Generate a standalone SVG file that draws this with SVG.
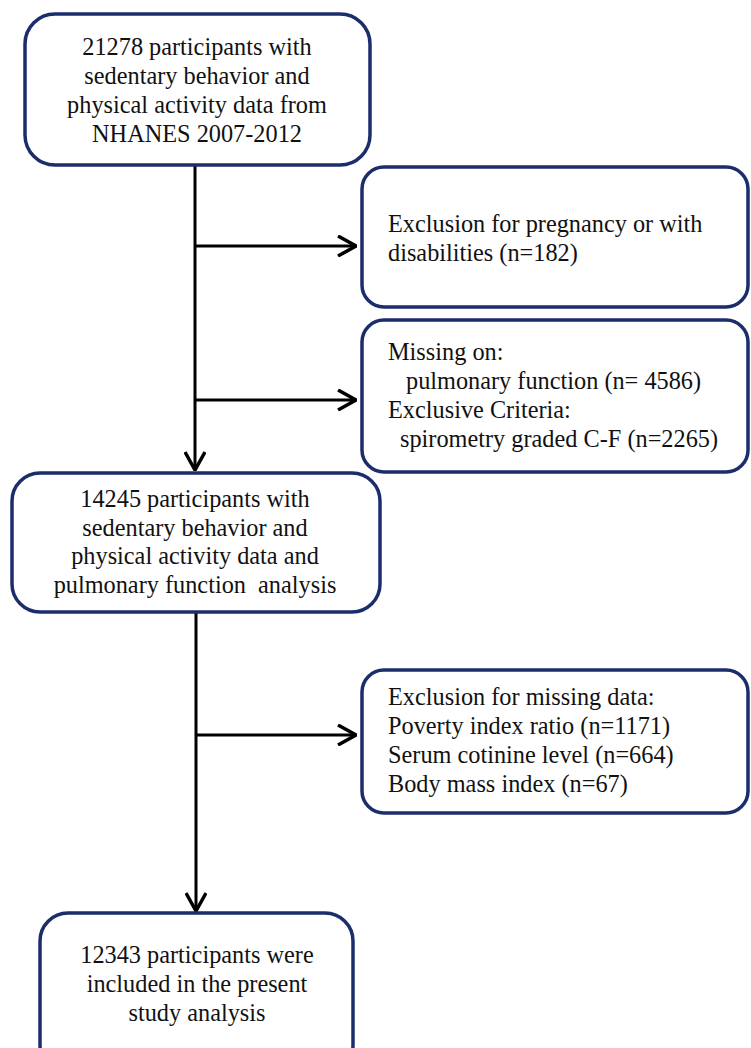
<svg xmlns="http://www.w3.org/2000/svg" width="751" height="1048" viewBox="0 0 751 1048">
<style>
.box{fill:#fff;stroke:#1c2d6b;stroke-width:3.5}
.t{font-family:"Liberation Serif","Times New Roman",serif;font-size:24.3px;fill:#111;white-space:pre}
.c{text-anchor:middle}
.ln{stroke:#000;stroke-width:3;fill:none}
</style>
<defs>
<marker id="ah" viewBox="0 0 20 22" refX="19" refY="11" markerWidth="20" markerHeight="22" markerUnits="userSpaceOnUse" orient="auto">
<path d="M1,1 L19,11 L1,21" fill="none" stroke="#000" stroke-width="3.5"/>
</marker>
</defs>
<rect width="751" height="1048" fill="#fff"/>
<g id="connectors">
<line class="ln" x1="195" y1="165" x2="195" y2="470" marker-end="url(#ah)"/>
<line class="ln" x1="195" y1="246" x2="356" y2="246" marker-end="url(#ah)"/>
<line class="ln" x1="195" y1="400" x2="356" y2="400" marker-end="url(#ah)"/>
<line class="ln" x1="196" y1="612" x2="196" y2="911" marker-end="url(#ah)"/>
<line class="ln" x1="196" y1="735" x2="356" y2="735" marker-end="url(#ah)"/>
</g>
<g id="n1">
<rect class="box" x="25" y="14" width="345" height="151" rx="30"/>
<text class="t c" x="197" y="55">21278 participants with</text>
<text class="t c" x="197" y="84">sedentary behavior and</text>
<text class="t c" x="197" y="113">physical activity data from</text>
<text class="t c" x="197" y="142">NHANES 2007-2012</text>
</g>
<g id="e1">
<rect class="box" x="362" y="167" width="386" height="140" rx="22"/>
<text class="t" x="388" y="232">Exclusion for pregnancy or with</text>
<text class="t" x="388" y="261">disabilities (n=182)</text>
</g>
<g id="e2">
<rect class="box" x="362" y="320" width="386" height="152" rx="22"/>
<text class="t" x="388" y="360">Missing on:</text>
<text class="t" x="406" y="389">pulmonary function (n= 4586)</text>
<text class="t" x="388" y="418">Exclusive Criteria:</text>
<text class="t" x="400" y="447">spirometry graded C-F (n=2265)</text>
</g>
<g id="n2">
<rect class="box" x="12" y="473" width="368" height="139" rx="28"/>
<text class="t c" x="195" y="507">14245 participants with</text>
<text class="t c" x="195" y="536">sedentary behavior and</text>
<text class="t c" x="195" y="564">physical activity data and</text>
<text class="t c" x="195" y="593">pulmonary function  analysis</text>
</g>
<g id="e3">
<rect class="box" x="362" y="670" width="386" height="143" rx="22"/>
<text class="t" x="388" y="705">Exclusion for missing data:</text>
<text class="t" x="388" y="734">Poverty index ratio (n=1171)</text>
<text class="t" x="388" y="763">Serum cotinine level (n=664)</text>
<text class="t" x="388" y="792">Body mass index (n=67)</text>
</g>
<g id="n3">
<rect class="box" x="40" y="913" width="313" height="160" rx="28"/>
<text class="t c" x="197" y="963">12343 participants were</text>
<text class="t c" x="197" y="992">included in the present</text>
<text class="t c" x="197" y="1021">study analysis</text>
</g>
</svg>
